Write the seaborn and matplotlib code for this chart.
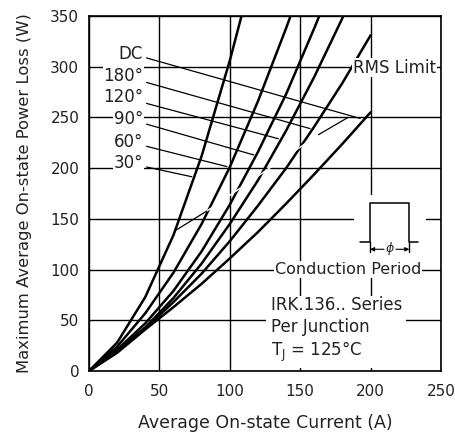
import matplotlib
matplotlib.use("Agg")
import matplotlib.pyplot as plt
from matplotlib.patches import Rectangle
import pandas as pd
import seaborn as sns

# curves (A, W)
angles = ["30°", "60°", "90°", "120°", "180°", "DC"]
current_30 = [0, 20, 40, 60, 80, 100, 110]
power_30 = [0, 28, 73, 134, 212, 306, 359]
current_60 = [0, 20, 40, 60, 80, 100, 120, 140, 145]
power_60 = [0, 24, 57, 97, 145, 201, 266, 338, 357]
current_90 = [0, 20, 40, 60, 80, 100, 120, 140, 160, 170]
power_90 = [0, 21, 47, 79, 118, 164, 216, 273, 338, 372]
current_120 = [0, 20, 40, 60, 80, 100, 120, 140, 160, 180, 190]
power_120 = [0, 20, 43, 72, 106, 145, 188, 237, 290, 348, 379]
current_180 = [0, 20, 40, 60, 80, 100, 120, 140, 160, 180, 200]
power_180 = [0, 19, 42, 68, 96, 128, 163, 200, 241, 284, 331]
current_dc = [0, 20, 40, 60, 80, 100, 120, 140, 160, 180, 200]
power_dc = [0, 18, 41, 63, 86, 111, 137, 165, 194, 224, 255]

# RMS limit line
rms_current = [62, 84, 163, 184]
rms_power = [139, 158, 233, 250]

# label positions and leader tips
label_power = [205, 226, 248.5, 270, 291, 313]
tip_current = [73, 98, 117, 134.5, 157, 192.5]
tip_power = [191.5, 201.5, 213, 229, 239, 249]

x_ticks = [0, 50, 100, 150, 200, 250]
y_ticks = [0, 50, 100, 150, 200, 250, 300, 350]

currents = [current_30, current_60, current_90, current_120, current_180, current_dc]
powers = [power_30, power_60, power_90, power_120, power_180, power_dc]
rows = []
for name, cs, ps in zip(angles, currents, powers):
    for c, p in zip(cs, ps):
        rows.append((name, c, p))
df = pd.DataFrame(rows, columns=["angle", "current", "power"])

sns.set_theme(style="white")
plt.rcParams["font.family"] = ["DejaVu Sans"]

fig = plt.figure(figsize=(4.56, 4.37), dpi=100)
ax = fig.add_axes([89 / 456, 1 - 371 / 437, 352 / 456, 355 / 437])

sns.lineplot(data=df, x="current", y="power", hue="angle", palette=["black"] * 6,
             estimator=None, sort=False, legend=False, lw=1.8, ax=ax)

# rms limit: black ends, white middle over the curves
ax.plot(rms_current[:2], rms_power[:2], color="black", lw=0.9, zorder=4)
ax.plot(rms_current[1:3], rms_power[1:3], color="white", lw=1.0, zorder=4)
ax.plot(rms_current[2:], rms_power[2:], color="black", lw=0.9, zorder=4)

for name, ly, tx, ty in zip(angles, label_power, tip_current, tip_power):
    ax.annotate(name, xy=(tx, ty), xytext=(38.5, ly), ha="right", va="center",
                fontsize=12, color="#222222",
                bbox=dict(fc="white", ec="none", pad=0.5),
                arrowprops=dict(arrowstyle="-", lw=0.9, color="black",
                                shrinkA=2, shrinkB=0))

ax.text(187.5, 299, "RMS Limit", ha="left", va="center", fontsize=12,
        color="#222222", bbox=dict(fc="white", ec="none", pad=0.5))

# conduction period sketch
ax.add_patch(Rectangle((188, 107), 51, 67, fc="white", ec="none", zorder=1))
ax.plot([192.5, 199.6, 199.6, 227.5, 227.5, 233.5],
        [126.9, 126.9, 165.9, 165.9, 126.9, 126.9], color="black", lw=1.1, zorder=3)
ax.plot([199.6, 199.6], [126.9, 117.6], color="black", lw=1.0, zorder=3)
ax.plot([227.5, 227.5], [126.9, 117.6], color="black", lw=1.0, zorder=3)
ax.annotate("", xy=(199.6, 120), xytext=(209.5, 120),
            arrowprops=dict(arrowstyle="-|>", lw=0.8, color="black",
                            mutation_scale=6, shrinkA=0, shrinkB=0))
ax.annotate("", xy=(227.5, 120), xytext=(218, 120),
            arrowprops=dict(arrowstyle="-|>", lw=0.8, color="black",
                            mutation_scale=6, shrinkA=0, shrinkB=0))
ax.text(213.6, 121, "ϕ", ha="center", va="center", fontsize=9, style="italic")
ax.text(184, 100, "Conduction Period", ha="center", va="center", fontsize=11.5,
        color="#222222", bbox=dict(fc="white", ec="none", pad=0.5))

ax.text(129, 40.5, "IRK.136.. Series\nPer Junction\nT$_\\mathregular{J}$ = 125°C",
        ha="left", va="center", fontsize=12, color="#222222", linespacing=1.25,
        bbox=dict(fc="white", ec="none", pad=3))

ax.set_xlim(0, 250)
ax.set_ylim(0, 350)
ax.set_xticks(x_ticks)
ax.set_yticks(y_ticks)
ax.grid(True, color="black", lw=1.0)
ax.set_axisbelow(True)
ax.tick_params(axis="x", length=0, pad=9, labelsize=11, labelcolor="#222222")
ax.tick_params(axis="y", length=0, pad=7, labelsize=11, labelcolor="#222222")
for s in ax.spines.values():
    s.set_visible(True)
    s.set_color("black")
    s.set_linewidth(1.2)
ax.set_xlabel("Average On-state Current (A)", fontsize=12.5, color="#222222", labelpad=11)
ax.set_ylabel("Maximum Average On-state Power Loss (W)", fontsize=11.8, color="#222222",
              labelpad=13)

fig.savefig("out.png", dpi=100)
